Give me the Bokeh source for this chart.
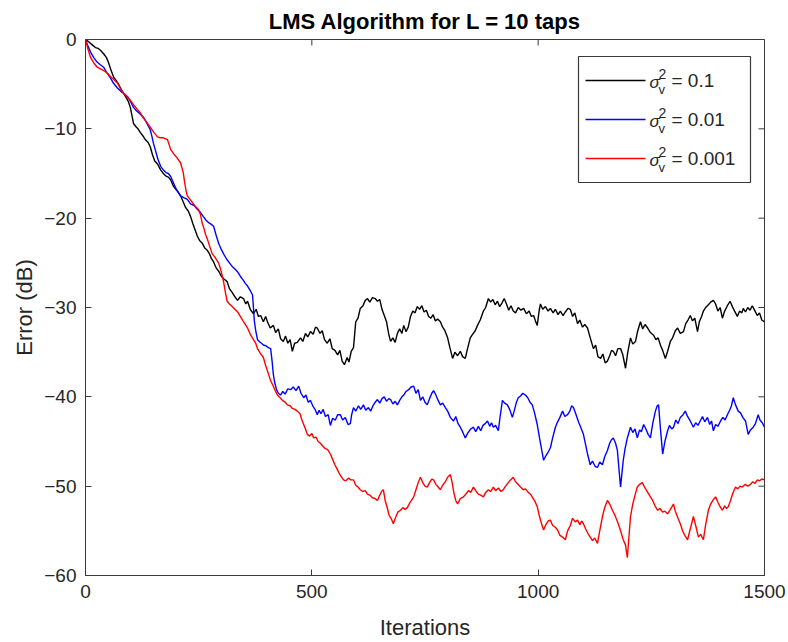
from bokeh.plotting import figure
from bokeh.models import Range1d, FixedTicker
from bokeh.core.properties import value
from bokeh.embed import file_html
from bokeh.resources import INLINE

# Learning curves of the LMS filter: (iteration, error in dB)
curve_01 = [
    (0, 0), (8, -0.3), (15, -0.6), (22, -0.9), (28, -1.0), (33, -1.2), (40, -1.6), (46, -2.0),
    (51, -2.6), (56, -3.4), (62, -4.2), (68, -4.6), (75, -5.2), (80, -5.7), (84, -6.0),
    (90, -6.5), (95, -7.0), (99, -7.6), (103, -8.6), (106, -9.4), (112, -9.8), (116, -10.0),
    (121, -10.4), (127, -10.8), (132, -11.2), (138, -11.5), (143, -12.0), (148, -12.9),
    (153, -13.6), (160, -14.0), (166, -14.6), (172, -15.0), (178, -15.3), (183, -15.4),
    (188, -15.7), (194, -16.4), (200, -16.8), (205, -17.1), (210, -17.5), (216, -18.2),
    (221, -18.8), (227, -19.2), (232, -19.8), (237, -20.6), (242, -21.3), (247, -22.0),
    (252, -22.5), (258, -22.8), (263, -23.3), (269, -23.6), (274, -24.0), (278, -24.5),
    (283, -24.9), (289, -25.6), (295, -26.0), (300, -26.5), (306, -26.8), (313, -27.1),
    (318, -27.9), (324, -28.3), (330, -28.8), (336, -29.2), (342, -28.8), (349, -29.0),
    (354, -29.6), (358, -29.3), (364, -30.2), (371, -30.7), (377, -30.2), (382, -31.0),
    (387, -30.9), (393, -31.6), (398, -31.0), (402, -31.6), (408, -32.3), (415, -32.0),
    (420, -32.8), (426, -32.4), (431, -33.5), (437, -33.8), (442, -33.2), (447, -34.0),
    (452, -33.6), (457, -34.9), (462, -34.0), (468, -33.9), (475, -33.4), (480, -33.8),
    (486, -32.9), (491, -33.3), (497, -32.7), (503, -33.0), (508, -32.2), (512, -32.3),
    (518, -32.9), (523, -32.6), (528, -33.6), (534, -34.0), (540, -33.5), (545, -34.6),
    (551, -34.8), (557, -35.3), (562, -34.8), (567, -36.0), (572, -36.4), (578, -35.6),
    (582, -36.1), (587, -34.9), (592, -34.5), (597, -31.6), (602, -31.2), (607, -30.1),
    (613, -29.8), (618, -29.2), (623, -29.0), (628, -29.4), (634, -28.9), (640, -29.0),
    (645, -29.3), (650, -29.1), (655, -30.2), (660, -30.9), (665, -31.6), (670, -33.0),
    (674, -33.8), (679, -33.4), (684, -33.9), (689, -32.9), (694, -32.4), (699, -32.9),
    (703, -32.0), (708, -32.7), (713, -32.2), (718, -31.0), (723, -30.4), (728, -30.6),
    (733, -29.9), (738, -30.2), (743, -29.8), (748, -30.5), (753, -30.3), (758, -31.0),
    (763, -31.2), (768, -30.8), (773, -31.5), (778, -31.3), (784, -31.6), (789, -32.2),
    (794, -32.6), (800, -33.4), (805, -34.5), (811, -35.7), (816, -35.0), (822, -35.4),
    (828, -34.9), (833, -35.5), (839, -35.7), (844, -34.6), (850, -33.4), (855, -33.0),
    (861, -32.6), (866, -32.0), (872, -31.4), (879, -30.4), (884, -30.0), (890, -29.0),
    (895, -29.4), (900, -29.1), (905, -29.7), (910, -29.3), (915, -29.9), (920, -29.5),
    (925, -29.0), (930, -29.6), (935, -30.3), (940, -29.8), (945, -30.4), (950, -30.6),
    (956, -30.0), (962, -30.3), (968, -30.1), (974, -30.7), (980, -30.4), (985, -31.0),
    (990, -30.9), (994, -31.5), (998, -32.0), (1002, -30.4), (1005, -29.6), (1010, -30.2),
    (1016, -29.9), (1022, -30.4), (1027, -30.1), (1033, -30.6), (1038, -30.2), (1044, -30.8),
    (1049, -30.4), (1055, -30.9), (1060, -30.5), (1066, -30.1), (1071, -30.2), (1076, -31.0),
    (1081, -30.6), (1087, -31.8), (1092, -31.4), (1098, -32.2), (1103, -31.9), (1109, -32.3),
    (1114, -33.2), (1118, -33.9), (1122, -34.6), (1127, -34.2), (1132, -35.5), (1138, -35.7),
    (1143, -35.2), (1148, -36.2), (1153, -36.0), (1158, -35.4), (1162, -34.8), (1166, -34.9),
    (1171, -35.4), (1176, -34.6), (1182, -34.6), (1187, -35.3), (1193, -36.8), (1198, -35.0),
    (1204, -33.4), (1209, -34.1), (1215, -33.8), (1220, -32.6), (1226, -31.6), (1231, -32.4),
    (1236, -31.9), (1242, -32.3), (1248, -32.8), (1255, -33.1), (1260, -33.6), (1265, -33.4),
    (1270, -34.2), (1275, -34.8), (1281, -35.7), (1286, -34.9), (1292, -33.8), (1297, -33.4),
    (1303, -32.6), (1308, -32.3), (1314, -32.9), (1321, -32.7), (1326, -31.8), (1331, -31.4),
    (1336, -30.9), (1341, -31.5), (1346, -31.2), (1352, -32.7), (1356, -31.6), (1361, -31.0),
    (1365, -30.4), (1370, -30.0), (1376, -29.7), (1381, -29.4), (1387, -29.2), (1392, -29.6),
    (1397, -30.4), (1402, -30.0), (1407, -31.2), (1412, -30.4), (1418, -29.8), (1424, -29.3),
    (1429, -29.9), (1434, -30.4), (1440, -31.0), (1445, -30.4), (1450, -30.6), (1453, -30.1),
    (1458, -30.5), (1463, -30.0), (1468, -30.3), (1473, -29.8), (1478, -30.3), (1484, -30.9),
    (1489, -30.6), (1494, -31.4), (1500, -31.6),
]

curve_001 = [
    (0, 0), (6, -0.8), (12, -1.5), (18, -2.0), (25, -2.5), (32, -2.8), (40, -3.1), (47, -3.7),
    (55, -4.3), (62, -4.9), (70, -5.4), (78, -5.8), (86, -6.1), (93, -6.4), (100, -7.0),
    (106, -7.6), (113, -8.0), (120, -8.3), (128, -8.7), (135, -9.3), (143, -10.1), (147, -10.9),
    (150, -11.6), (155, -12.5), (160, -13.4), (166, -14.2), (172, -14.6), (178, -14.9),
    (183, -15.0), (188, -15.3), (194, -16.0), (200, -16.7), (205, -17.1), (210, -17.5),
    (217, -17.7), (225, -17.9), (232, -18.4), (240, -18.6), (247, -19.0), (253, -19.3),
    (260, -19.8), (266, -20.2), (272, -20.5), (278, -20.7), (283, -20.9), (288, -21.8),
    (294, -22.8), (300, -23.5), (305, -24.0), (312, -24.6), (318, -25.0), (324, -25.4),
    (330, -25.7), (336, -26.0), (342, -26.5), (348, -26.9), (353, -27.3), (358, -27.6),
    (364, -28.1), (369, -28.6), (371, -30.0), (373, -31.5), (376, -32.6), (380, -33.6),
    (386, -33.9), (393, -34.2), (399, -34.3), (404, -34.5), (409, -34.6), (412, -35.9),
    (415, -37.5), (418, -38.4), (422, -39.2), (426, -39.6), (431, -39.8), (436, -39.4),
    (441, -39.7), (447, -39.1), (453, -39.2), (459, -38.9), (465, -39.3), (471, -38.8),
    (476, -39.6), (482, -40.1), (487, -39.8), (492, -40.6), (497, -40.4), (502, -41.0),
    (507, -41.4), (512, -42.0), (516, -41.5), (520, -41.9), (525, -41.4), (530, -42.2),
    (536, -42.0), (541, -43.2), (546, -42.4), (552, -42.6), (557, -42.0), (563, -42.0),
    (568, -42.6), (574, -42.3), (580, -43.1), (585, -43.0), (588, -42.0), (592, -41.2),
    (597, -41.6), (603, -41.0), (608, -41.4), (614, -40.9), (619, -41.5), (625, -41.2),
    (630, -41.6), (635, -41.0), (640, -40.6), (645, -40.3), (650, -40.7), (655, -40.2),
    (660, -40.0), (665, -40.5), (670, -40.2), (674, -40.3), (679, -40.8), (684, -40.5),
    (689, -40.9), (694, -40.4), (699, -40.0), (703, -39.8), (708, -39.4), (714, -39.2),
    (719, -38.9), (725, -38.8), (730, -39.6), (735, -39.2), (740, -40.4), (745, -40.0),
    (750, -40.6), (755, -40.9), (760, -40.2), (765, -39.6), (769, -39.3), (774, -39.8),
    (779, -40.4), (784, -40.9), (789, -40.7), (795, -41.2), (800, -41.6), (806, -42.3),
    (813, -42.7), (818, -42.2), (823, -43.0), (828, -43.4), (833, -43.9), (839, -44.6),
    (845, -44.0), (851, -43.6), (857, -43.4), (862, -43.9), (868, -43.3), (873, -43.8),
    (878, -43.2), (883, -43.0), (888, -42.7), (893, -43.3), (897, -42.9), (901, -43.4),
    (906, -43.2), (912, -43.8), (916, -42.2), (921, -40.4), (926, -40.7), (932, -40.9),
    (937, -41.4), (943, -42.3), (948, -41.4), (952, -40.6), (956, -40.1), (961, -39.9),
    (966, -39.6), (972, -39.8), (977, -40.1), (982, -40.6), (987, -40.9), (992, -41.8),
    (998, -43.1), (1003, -44.6), (1008, -46.0), (1012, -47.1), (1017, -46.6), (1022, -46.2),
    (1027, -45.7), (1032, -44.6), (1038, -43.4), (1043, -42.8), (1048, -42.3), (1054, -41.6),
    (1059, -42.2), (1065, -42.0), (1070, -41.6), (1074, -41.0), (1078, -41.2), (1083, -41.9),
    (1089, -42.8), (1094, -43.4), (1100, -44.2), (1105, -45.4), (1110, -46.6), (1115, -47.6),
    (1120, -47.2), (1126, -47.8), (1131, -47.9), (1136, -47.3), (1142, -47.6), (1147, -46.7),
    (1153, -46.0), (1158, -45.2), (1162, -44.8), (1166, -44.6), (1171, -45.2), (1175, -46.0),
    (1178, -47.8), (1182, -50.1), (1185, -48.6), (1188, -47.1), (1192, -45.8), (1197, -44.6),
    (1204, -43.4), (1209, -44.0), (1214, -43.6), (1219, -44.6), (1224, -43.7), (1228, -43.9),
    (1233, -43.1), (1238, -43.6), (1243, -44.2), (1248, -44.6), (1253, -43.0), (1259, -41.6),
    (1263, -41.0), (1266, -40.9), (1270, -43.5), (1275, -46.4), (1280, -45.0), (1286, -43.8),
    (1290, -43.2), (1295, -43.6), (1299, -43.4), (1304, -42.6), (1309, -43.0), (1314, -42.3),
    (1320, -42.0), (1325, -41.6), (1330, -42.2), (1336, -42.7), (1343, -43.4), (1348, -42.9),
    (1353, -43.2), (1358, -42.7), (1363, -42.2), (1368, -42.8), (1374, -42.3), (1379, -43.1),
    (1383, -42.7), (1387, -43.8), (1392, -43.1), (1397, -43.3), (1403, -42.7), (1408, -42.3),
    (1413, -42.6), (1418, -42.0), (1423, -41.5), (1427, -41.0), (1431, -40.1), (1436, -40.9),
    (1442, -41.6), (1447, -41.8), (1452, -42.3), (1458, -42.7), (1464, -44.2), (1469, -43.7),
    (1475, -43.4), (1480, -43.0), (1486, -42.0), (1490, -42.6), (1495, -42.9), (1500, -43.4),
]

curve_0001 = [
    (0, 0), (5, -1.0), (11, -2.0), (18, -2.6), (26, -3.1), (33, -3.3), (41, -3.5), (49, -3.8),
    (56, -4.2), (63, -4.5), (71, -4.9), (78, -5.6), (84, -6.0), (92, -6.4), (99, -6.8),
    (106, -7.3), (114, -7.8), (121, -8.2), (128, -8.8), (136, -9.3), (143, -9.8), (151, -10.4),
    (159, -10.9), (165, -11.0), (172, -11.0), (181, -11.2), (185, -11.8), (188, -12.3),
    (195, -12.8), (203, -13.3), (210, -13.8), (216, -14.9), (219, -16.0), (222, -16.9),
    (225, -17.5), (231, -17.9), (237, -18.3), (243, -18.7), (249, -19.0), (254, -19.6),
    (258, -20.6), (262, -21.2), (265, -21.8), (269, -22.3), (274, -23.1), (280, -24.0),
    (285, -24.3), (290, -24.7), (294, -25.0), (300, -26.0), (305, -27.1), (309, -28.3),
    (313, -29.3), (318, -29.6), (324, -29.9), (330, -30.2), (336, -30.5), (342, -31.0),
    (348, -31.5), (353, -31.9), (358, -32.3), (364, -33.0), (371, -33.6), (376, -34.0),
    (380, -34.6), (386, -35.1), (393, -35.6), (398, -36.5), (404, -37.4), (409, -38.2),
    (414, -38.7), (419, -39.3), (424, -39.8), (430, -40.1), (435, -40.4), (441, -40.6),
    (446, -40.9), (452, -41.0), (457, -41.3), (463, -41.4), (468, -41.6), (474, -41.9),
    (478, -42.6), (482, -43.1), (486, -43.6), (490, -44.2), (495, -44.4), (500, -44.1),
    (504, -44.6), (509, -44.5), (514, -45.0), (519, -45.2), (524, -45.5), (530, -45.8),
    (535, -45.9), (541, -46.4), (546, -47.0), (551, -47.6), (557, -48.2), (563, -48.8),
    (570, -49.3), (575, -49.4), (581, -49.1), (586, -49.3), (592, -49.3), (597, -49.9),
    (602, -50.1), (607, -50.4), (612, -50.6), (618, -50.5), (623, -50.9), (628, -51.0),
    (634, -51.3), (640, -51.4), (645, -51.6), (650, -51.0), (654, -50.6), (658, -50.4),
    (662, -51.6), (667, -52.5), (671, -53.3), (676, -53.7), (680, -54.2), (685, -53.5),
    (690, -52.9), (696, -52.7), (701, -52.4), (706, -52.6), (711, -52.4), (716, -51.9),
    (720, -51.6), (725, -51.2), (730, -50.4), (735, -49.6), (740, -49.0), (745, -49.6),
    (750, -50.0), (755, -50.1), (760, -49.6), (765, -49.2), (769, -49.3), (774, -49.8),
    (779, -50.1), (784, -50.4), (789, -49.9), (795, -49.5), (800, -49.0), (806, -48.7),
    (810, -49.6), (814, -50.8), (818, -51.6), (822, -52.0), (828, -51.4), (835, -51.2),
    (840, -50.9), (846, -50.5), (851, -50.7), (857, -50.1), (862, -50.5), (868, -50.9),
    (873, -51.0), (879, -51.2), (884, -50.7), (890, -50.4), (895, -50.6), (901, -50.1),
    (906, -50.5), (912, -50.2), (918, -50.6), (923, -50.4), (928, -50.0), (934, -49.6),
    (939, -49.3), (945, -49.0), (950, -49.5), (956, -49.8), (961, -50.1), (967, -50.4),
    (972, -50.3), (978, -50.7), (983, -50.9), (988, -51.3), (993, -51.7), (998, -52.3),
    (1003, -53.4), (1008, -54.3), (1012, -54.9), (1017, -54.3), (1022, -53.9), (1027, -53.8),
    (1032, -54.4), (1038, -54.6), (1043, -54.9), (1048, -55.5), (1054, -55.7), (1060, -56.0),
    (1065, -55.0), (1071, -54.4), (1076, -53.6), (1082, -54.0), (1087, -53.8), (1092, -54.3),
    (1096, -53.9), (1100, -54.2), (1105, -54.8), (1110, -55.3), (1115, -55.7), (1120, -56.1),
    (1125, -55.8), (1131, -56.4), (1136, -55.0), (1142, -53.4), (1147, -52.4), (1153, -51.6),
    (1158, -52.0), (1164, -52.7), (1170, -53.3), (1177, -54.2), (1182, -55.0), (1188, -56.0),
    (1193, -56.6), (1197, -58.0), (1200, -56.0), (1204, -53.4), (1209, -52.0), (1214, -51.0),
    (1219, -50.1), (1224, -49.8), (1230, -49.6), (1235, -50.1), (1241, -50.6), (1248, -51.2),
    (1253, -51.6), (1258, -52.2), (1264, -52.7), (1269, -52.5), (1275, -52.9), (1280, -52.8),
    (1286, -53.1), (1292, -52.6), (1299, -52.0), (1303, -52.8), (1309, -53.6), (1314, -54.2),
    (1319, -55.0), (1325, -55.6), (1330, -56.0), (1336, -54.8), (1343, -53.4), (1348, -54.4),
    (1354, -55.7), (1359, -55.4), (1365, -56.0), (1370, -54.3), (1376, -52.7), (1381, -52.0),
    (1387, -51.5), (1392, -51.2), (1397, -51.8), (1402, -52.3), (1407, -52.7), (1412, -52.2),
    (1416, -52.5), (1420, -52.3), (1425, -51.6), (1430, -50.8), (1436, -50.1), (1441, -50.3),
    (1446, -50.0), (1451, -50.1), (1457, -49.8), (1463, -50.0), (1469, -49.8), (1474, -49.5),
    (1479, -49.7), (1484, -49.3), (1489, -49.4), (1494, -49.2), (1500, -49.3),
]

series_labels = ["0.1", "0.01", "0.001"]
series_colors = ["#000000", "#0000ff", "#ff0000"]
x_ticks = [0, 500, 1000, 1500]
y_ticks = [-60, -50, -40, -30, -20, -10, 0]

X0, X1 = 0, 1500
Y0, Y1 = -60, 0

W, H = 788, 642
B_LEFT, B_RIGHT, B_TOP, B_BOTTOM = 85, 24, 39, 67
FW, FH = W - B_LEFT - B_RIGHT, H - B_TOP - B_BOTTOM
TICK_PX = 6

FONT = "Liberation Sans"
AX_COLOR = "#3a3a3a"
TXT_COLOR = "#262626"

p = figure(width=W, height=H, output_backend="svg", toolbar_location=None,
           x_range=Range1d(X0, X1), y_range=Range1d(Y0, Y1),
           min_border_left=B_LEFT, min_border_right=B_RIGHT,
           min_border_top=B_TOP, min_border_bottom=B_BOTTOM,
           title="LMS Algorithm for L = 10 taps")

p.background_fill_color = "white"
p.border_fill_color = "white"
p.outline_line_color = AX_COLOR
p.outline_line_width = 1
p.xgrid.visible = False
p.ygrid.visible = False

p.title.align = "center"
p.title.text_font = FONT
p.title.text_font_size = "22px"
p.title.text_font_style = "bold"
p.title.text_color = "#000000"
p.title.offset = 0
p.title.standoff = 12

for ax, ticks, lab, lab_standoff in ((p.xaxis[0], x_ticks, "Iterations", 14),
                                      (p.yaxis[0], y_ticks, "Error (dB)", 4)):
    ax.ticker = FixedTicker(ticks=ticks)
    ax.minor_tick_line_color = None
    ax.major_tick_in = TICK_PX
    ax.major_tick_out = 0
    ax.axis_line_color = AX_COLOR
    ax.major_tick_line_color = AX_COLOR
    ax.major_label_text_font = FONT
    ax.major_label_text_color = TXT_COLOR
    ax.major_label_text_font_size = "19px"
    ax.major_label_standoff = 9
    ax.axis_label = lab
    ax.axis_label_text_font = FONT
    ax.axis_label_text_font_size = "22px"
    ax.axis_label_text_font_style = "normal"
    ax.axis_label_text_color = TXT_COLOR
    ax.axis_label_standoff = lab_standoff

# helpers converting pixel offsets inside the axes box to data units
def dx(px):
    return X0 + (px - B_LEFT) * (X1 - X0) / FW

def dy(py):
    return Y1 - (py - B_TOP) * (Y1 - Y0) / FH

tick_dx = TICK_PX * (X1 - X0) / FW
tick_dy = TICK_PX * (Y1 - Y0) / FH

# inward ticks on the top and right edges of the box
p.segment(x0=x_ticks, y0=[Y1] * len(x_ticks), x1=x_ticks, y1=[Y1 - tick_dy] * len(x_ticks),
          line_color=AX_COLOR, line_width=1)
p.segment(x0=[X1] * len(y_ticks), y0=y_ticks, x1=[X1 - tick_dx] * len(y_ticks), y1=y_ticks,
          line_color=AX_COLOR, line_width=1)

for curve, color in zip((curve_01, curve_001, curve_0001), series_colors):
    xs = [c[0] for c in curve]
    ys = [c[1] for c in curve]
    p.line(xs, ys, line_color=color, line_width=1.4)

# legend box in the top-right corner
p.quad(left=[dx(578)], right=[dx(750)], top=[dy(56)], bottom=[dy(182)],
       fill_color="white", line_color=AX_COLOR, line_width=1.2)

row_y = [80, 119, 158]
for ry, lab, color in zip(row_y, series_labels, series_colors):
    p.line([dx(585), dx(645)], [dy(ry), dy(ry)], line_color=color, line_width=1.4)
    p.text([dx(649)], [dy(ry + 2)], text=["σ"], text_font=value(FONT), text_font_size="17px",
           text_font_style="italic", text_baseline="middle", text_align="left", text_color=TXT_COLOR)
    p.text([dx(658)], [dy(ry - 7)], text=["2"], text_font=value(FONT), text_font_size="14px",
           text_baseline="middle", text_align="left", text_color=TXT_COLOR)
    p.text([dx(658)], [dy(ry + 9)], text=["v"], text_font=value(FONT), text_font_size="13px",
           text_baseline="middle", text_align="left", text_color=TXT_COLOR)
    p.text([dx(671)], [dy(ry)], text=["= " + lab], text_font=value(FONT), text_font_size="19px",
           text_baseline="middle", text_align="left", text_color=TXT_COLOR)

open("out.html", "w").write(file_html(p, INLINE))
